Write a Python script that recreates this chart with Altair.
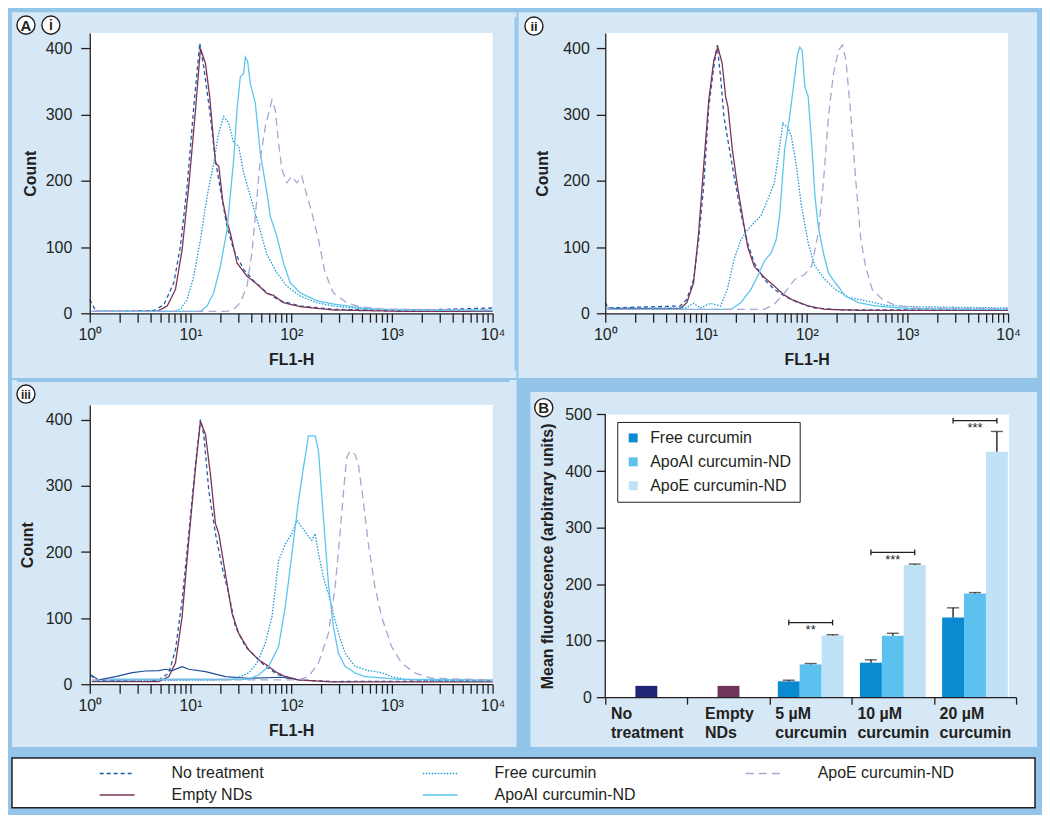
import altair as alt
import pandas as pd

FONT = "Liberation Sans"
OUTER = "#93C5EB"
PANEL = "#D6E8F6"
INK = "#231F20"

# ---------------- histogram series (x stored as log10(FL1-H), y = count) ----------------
series_names = ["No treatment", "Free curcumin", "ApoE curcumin-ND", "Empty NDs", "ApoAI curcumin-ND"]
series_colors = ["#1F5BA8", "#1E9BD7", "#A4A8D3", "#7B3458", "#5EC5EF"]
series_dashes = [[4, 3], [1.5, 1.5], [8, 5], [1, 0], [1, 0]]

# panel (i)
i_no_lx = [0.0, 0.06, 0.3, 0.637, 0.736, 0.835, 0.90, 0.967, 1.033, 1.092, 1.132, 1.198, 1.247, 1.297, 1.363, 1.429, 1.528, 1.627, 1.759, 1.891, 2.089, 2.419, 3.079, 4.0]
i_no_c = [21, 3, 3, 4, 13, 46, 101, 192, 312, 408, 372, 297, 232, 187, 131, 96, 66, 49, 31, 19, 11, 6, 4, 8]
i_em_lx = [0.04, 0.3, 0.67, 0.769, 0.851, 0.917, 0.983, 1.05, 1.099, 1.149, 1.191, 1.248, 1.281, 1.32, 1.36, 1.396, 1.462, 1.561, 1.66, 1.759, 1.825, 1.924, 2.089, 2.419, 3.079, 4.0]
i_em_c = [3, 3, 3, 11, 36, 96, 192, 307, 400, 377, 327, 227, 222, 170, 140, 121, 76, 56, 44, 30, 27, 16, 10, 5, 3, 3]
i_fr_lx = [0.02, 0.5, 0.835, 0.901, 0.967, 1.033, 1.099, 1.165, 1.231, 1.28, 1.33, 1.38, 1.429, 1.479, 1.528, 1.594, 1.66, 1.759, 1.858, 1.957, 2.089, 2.254, 2.419, 2.749, 4.0]
i_fr_c = [3, 3, 3, 6, 21, 56, 111, 177, 227, 272, 297, 287, 257, 252, 212, 177, 142, 89, 61, 41, 26, 16, 11, 6, 5]
i_ai_lx = [0.02, 0.6, 1.1, 1.165, 1.231, 1.297, 1.363, 1.429, 1.462, 1.495, 1.528, 1.545, 1.568, 1.594, 1.644, 1.693, 1.759, 1.792, 1.858, 1.924, 1.99, 2.089, 2.254, 2.419, 2.749, 3.079, 4.0]
i_ai_c = [3, 3, 3, 11, 31, 71, 126, 232, 307, 357, 362, 387, 380, 347, 317, 242, 182, 147, 116, 76, 46, 31, 19, 14, 7, 5, 4]
i_ae_lx = [0.02, 0.8, 1.363, 1.429, 1.495, 1.561, 1.61, 1.644, 1.693, 1.743, 1.776, 1.809, 1.842, 1.875, 1.908, 1.957, 2.007, 2.056, 2.106, 2.139, 2.205, 2.271, 2.337, 2.419, 2.551, 2.683, 2.914, 4.0]
i_ae_c = [3, 3, 3, 6, 16, 41, 91, 147, 232, 282, 302, 322, 307, 257, 217, 197, 207, 197, 207, 187, 152, 111, 61, 31, 16, 10, 6, 5]

# panel (ii)
ii_no_lx = [0.0, 0.03, 0.743, 0.81, 0.877, 0.927, 0.977, 1.028, 1.078, 1.111, 1.145, 1.178, 1.228, 1.279, 1.346, 1.413, 1.479, 1.58, 1.68, 1.781, 1.915, 2.082, 2.35, 4.0]
ii_no_c = [16, 8, 11, 21, 51, 111, 192, 312, 372, 405, 357, 297, 252, 207, 152, 106, 76, 51, 36, 26, 16, 8, 5, 5]
ii_em_lx = [0.04, 0.743, 0.81, 0.877, 0.927, 0.977, 1.028, 1.078, 1.118, 1.161, 1.195, 1.218, 1.262, 1.312, 1.362, 1.413, 1.479, 1.58, 1.68, 1.764, 1.848, 2.015, 2.182, 2.517, 4.0]
ii_em_c = [7, 7, 16, 46, 121, 222, 322, 382, 402, 377, 327, 312, 247, 192, 147, 101, 71, 54, 41, 29, 21, 11, 6, 4.5, 4.5]
ii_fr_lx = [0.02, 0.8, 0.877, 0.944, 1.044, 1.145, 1.212, 1.279, 1.346, 1.413, 1.479, 1.546, 1.613, 1.68, 1.731, 1.764, 1.814, 1.848, 1.898, 1.948, 2.015, 2.082, 2.182, 2.283, 2.417, 2.584, 2.785, 3.019, 4.0]
ii_fr_c = [8, 8, 15, 8, 15, 11, 36, 81, 111, 126, 137, 147, 172, 197, 252, 287, 280, 267, 222, 162, 106, 71, 51, 36, 24, 19, 12, 10, 8]
ii_ai_lx = [0.02, 1.25, 1.346, 1.446, 1.513, 1.58, 1.647, 1.697, 1.731, 1.781, 1.831, 1.881, 1.908, 1.931, 1.955, 1.982, 2.015, 2.049, 2.082, 2.115, 2.166, 2.216, 2.283, 2.316, 2.383, 2.517, 2.685, 3.019, 4.0]
ii_ai_c = [6, 6, 16, 36, 56, 79, 91, 111, 147, 247, 297, 357, 390, 402, 397, 342, 327, 257, 177, 131, 91, 61, 46, 40, 26, 16, 11, 7, 6]
ii_ae_lx = [0.02, 1.58, 1.68, 1.781, 1.881, 1.982, 2.049, 2.115, 2.166, 2.216, 2.266, 2.316, 2.356, 2.39, 2.434, 2.484, 2.534, 2.584, 2.651, 2.751, 2.852, 3.019, 4.0]
ii_ae_c = [6, 6, 14, 31, 51, 59, 71, 121, 197, 297, 362, 397, 405, 382, 307, 207, 116, 71, 36, 21, 14, 8, 7]

# panel (iii)
iii_no_lx = [0.01, 0.06, 0.587, 0.686, 0.785, 0.851, 0.917, 0.983, 1.05, 1.099, 1.132, 1.182, 1.248, 1.314, 1.38, 1.446, 1.545, 1.644, 1.743, 1.875, 2.073, 2.403, 4.0]
iii_no_c = [14, 6.5, 4, 6.5, 17, 52, 127, 228, 333, 401, 378, 293, 228, 177, 137, 87, 57, 42, 27, 14, 6.5, 4, 5]
iii_em_lx = [0.02, 0.686, 0.785, 0.851, 0.917, 0.983, 1.05, 1.099, 1.149, 1.198, 1.248, 1.281, 1.347, 1.413, 1.479, 1.578, 1.677, 1.776, 1.842, 1.941, 2.073, 2.403, 4.0]
iii_em_c = [4, 4, 11.5, 32, 102, 218, 328, 398, 378, 318, 243, 228, 167, 107, 77, 52, 37, 27, 19, 11.5, 6.5, 3.5, 3.5]
iii_fr_lx = [0.03, 1.4, 1.479, 1.578, 1.66, 1.743, 1.809, 1.875, 1.941, 2.007, 2.056, 2.106, 2.172, 2.205, 2.238, 2.271, 2.32, 2.37, 2.419, 2.469, 2.535, 2.634, 2.766, 2.898, 2.997, 3.129, 3.393, 4.0]
iii_fr_c = [5, 6.5, 10.5, 17, 32, 62, 102, 187, 212, 228, 248, 238, 223, 218, 228, 198, 162, 137, 107, 77, 47, 27, 20.6, 17.5, 11.5, 7.5, 5.5, 5]
iii_ai_lx = [0.2, 1.578, 1.677, 1.776, 1.875, 1.941, 2.007, 2.073, 2.122, 2.172, 2.238, 2.271, 2.32, 2.37, 2.419, 2.469, 2.535, 2.634, 2.733, 3.063, 4.0]
iii_ai_c = [7.5, 7.5, 14, 27, 57, 117, 197, 278, 328, 376, 376, 353, 253, 152, 87, 47, 27, 17, 11.5, 7.5, 6.5]
iii_ae_lx = [0.02, 2.073, 2.172, 2.271, 2.37, 2.436, 2.485, 2.518, 2.551, 2.584, 2.634, 2.667, 2.716, 2.766, 2.832, 2.898, 2.997, 3.096, 3.228, 3.393, 4.0]
iii_ae_c = [6.5, 6.5, 11.5, 32, 77, 147, 228, 288, 343, 353, 348, 333, 278, 213, 147, 102, 57, 32, 17, 9, 6.5]
iii_extra_lx = [0.01, 0.09, 0.257, 0.422, 0.554, 0.686, 0.752, 0.818, 0.917, 0.983, 1.149, 1.347, 1.578, 1.908, 2.073]
iii_extra_c = [14, 6.5, 11.5, 17.5, 20, 20.6, 22.6, 20.6, 26.6, 22.6, 19, 11.5, 9, 10.5, 6.5]

decade_values = [1, 10, 100, 1000, 10000]
decade_labels = ["10\u2070", "10\u00b9", "10\u00b2", "10\u00b3", "10\u2074"]
count_ticks = [0, 100, 200, 300, 400]

# ---------------- bar chart (B) ----------------
groups = ["No treatment", "Empty NDs", "5 \u00b5M curcumin", "10 \u00b5M curcumin", "20 \u00b5M curcumin"]
bar_kinds = ["No treatment", "Empty NDs", "Free curcumin", "ApoAI curcumin-ND", "ApoE curcumin-ND"]
bar_colors = ["#1F2676", "#6E3559", "#0A8AD0", "#5CC1EE", "#BFE2F6"]
slots = ["Free curcumin", "ApoAI curcumin-ND", "ApoE curcumin-ND"]
control_values = [20, 20]
free_values = [28, 61, 141]
free_err = [2, 5, 17]
apoai_values = [58, 108.5, 183.5]
apoai_err = [1.5, 4.5, 1.5]
apoe_values = [109, 234, 434]
apoe_err = [1.5, 1.5, 36]
bracket_levels = [132, 256, 489]
star_levels = [118, 243, 476]
star_labels = ["**", "***", "***"]
fluor_ticks = [0, 100, 200, 300, 400, 500]


def panel_df(parts):
    rows = []
    for name, lx, cnt in parts:
        for a, c in zip(lx, cnt):
            rows.append({"series": name, "fl1h": 10 ** a, "count": c})
    return pd.DataFrame(rows)


ONE = alt.Data(values=[{}])


def rect(x1, x2, y1, y2, color, **kw):
    return alt.Chart(ONE).mark_rect(color=color, **kw).encode(
        x=alt.value(x1), x2=alt.value(x2), y=alt.value(y1), y2=alt.value(y2))


def vrule(x, y1, y2):
    return alt.Chart(ONE).mark_rule(color=OUTER, strokeWidth=2).encode(
        x=alt.value(x), y=alt.value(y1), y2=alt.value(y2))


def hrule(y, x1, x2):
    return alt.Chart(ONE).mark_rule(color=OUTER, strokeWidth=2).encode(
        y=alt.value(y), x=alt.value(x1), x2=alt.value(x2))


def badge(cx, cy, label, fs):
    c = alt.Chart(ONE).mark_point(shape="circle", filled=True, fill="white", stroke=INK,
                                  strokeWidth=1.4, size=330, opacity=1).encode(
        x=alt.value(cx), y=alt.value(cy))
    t = alt.Chart(ONE).mark_text(text=label, font=FONT, fontWeight="bold", fontSize=fs,
                                 color=INK, align="center", baseline="middle", dy=0.5).encode(
        x=alt.value(cx), y=alt.value(cy))
    return [c, t]


x_ticks = [k * d for d in decade_values[:-1] for k in range(1, 10)] + [decade_values[-1]]
label_expr = " : ".join(
    f"datum.value == {v} ? '{s}'" for v, s in zip(decade_values, decade_labels)) + " : ''"


def hist_panel(df, W, H, ymax, rect_box, title_x, ypad, decor, extra=None):
    xscale = alt.Scale(type="log", domain=[1, 10000], nice=False)
    yscale = alt.Scale(domain=[0, ymax], nice=False)
    xaxis = alt.Axis(values=x_ticks, labelExpr=label_expr, tickSize=9, labelPadding=4,
                     labelFontSize=16, labelFlush=False, labelOverlap=False,
                     title="FL1-H", titleFontSize=16, titleFontWeight="bold",
                     titleX=W / 2, titleY=51, titleBaseline="alphabetic",
                     titleAlign="center", grid=False, zindex=2)
    yaxis = alt.Axis(values=count_ticks, tickSize=9, labelPadding=ypad, labelFontSize=16,
                     title="Count", titleFontSize=16, titleFontWeight="bold", titleAngle=270,
                     titleX=title_x, titleY=H / 2, titleBaseline="alphabetic",
                     titleAlign="center", grid=False, zindex=2)
    lines = alt.Chart(df).mark_line(strokeWidth=1.3).encode(
        x=alt.X("fl1h:Q", scale=xscale, axis=xaxis),
        y=alt.Y("count:Q", scale=yscale, axis=yaxis),
        color=alt.Color("series:N", scale=alt.Scale(domain=series_names, range=series_colors), legend=None),
        strokeDash=alt.StrokeDash("series:N", scale=alt.Scale(domain=series_names, range=series_dashes), legend=None),
    )
    layers = [rect(*rect_box, PANEL), rect(0, W, 0, H, "white")]
    if extra is not None:
        layers.append(alt.Chart(extra).mark_line(strokeWidth=1.2, color="#1F4F9A").encode(
            x=alt.X("fl1h:Q", scale=xscale, axis=xaxis),
            y=alt.Y("count:Q", scale=yscale, axis=yaxis)))
    layers.append(lines)
    layers += decor
    return alt.layer(*layers).properties(width=W, height=H)


df_i = panel_df([("No treatment", i_no_lx, i_no_c), ("Empty NDs", i_em_lx, i_em_c),
                 ("Free curcumin", i_fr_lx, i_fr_c), ("ApoAI curcumin-ND", i_ai_lx, i_ai_c),
                 ("ApoE curcumin-ND", i_ae_lx, i_ae_c)])
df_ii = panel_df([("No treatment", ii_no_lx, ii_no_c), ("Empty NDs", ii_em_lx, ii_em_c),
                  ("Free curcumin", ii_fr_lx, ii_fr_c), ("ApoAI curcumin-ND", ii_ai_lx, ii_ai_c),
                  ("ApoE curcumin-ND", ii_ae_lx, ii_ae_c)])
df_iii = panel_df([("No treatment", iii_no_lx, iii_no_c), ("Empty NDs", iii_em_lx, iii_em_c),
                   ("Free curcumin", iii_fr_lx, iii_fr_c), ("ApoAI curcumin-ND", iii_ai_lx, iii_ai_c),
                   ("ApoE curcumin-ND", iii_ae_lx, iii_ae_c)])
df_extra = pd.DataFrame({"fl1h": [10 ** a for a in iii_extra_lx], "count": iii_extra_c})

# column 1 plot origins at page x=90, column 2 at x=605; row 1 at y=33, row 2 at y=404
panel_i = hist_panel(df_i, 404, 281, 423, (-78, 428, -21, 346), -54, 9,
                     [vrule(427, -16, 339)] + badge(-64, -8, "A", 15) + badge(-39, -8, "i", 14))
panel_ii = hist_panel(df_ii, 404, 281, 423, (-87, 433, -21, 346), -58, 7,
                      badge(-71.5, -7, "ii", 13))
panel_iii = hist_panel(df_iii, 404, 280, 422.6, (-78, 428, -25, 343), -57, 9,
                       [hrule(-24, -73, 421)] + badge(-64, -11, "iii", 12), extra=df_extra)

# ---- panel B ----
WB, HB = 412, 293
B_TOP = 9.5
ymaxB = 500 * HB / (HB - B_TOP)
bar_rows = []
for g, v in zip(groups[:2], control_values):
    bar_rows.append({"group": g, "slot": slots[1], "kind": g, "value": v, "top": v})
for j, g in enumerate(groups[2:]):
    for s, vals, errs in zip(slots, [free_values, apoai_values, apoe_values], [free_err, apoai_err, apoe_err]):
        bar_rows.append({"group": g, "slot": s, "kind": s, "value": vals[j], "top": vals[j] + errs[j]})
bars_df = pd.DataFrame(bar_rows)
err_df = bars_df[bars_df["kind"].isin(slots)]

br_rows = []
for g, lv in zip(groups[2:], bracket_levels):
    for s in (slots[0], slots[2]):
        br_rows.append({"group": g, "slot": s, "level": lv, "lo": lv - 5, "hi": lv + 5})
br_df = pd.DataFrame(br_rows)
star_df = pd.DataFrame({"group": groups[2:], "slot": [slots[1]] * 3, "ys": star_levels, "stars": star_labels})

split_expr = ("[substring(datum.label, 0, lastindexof(datum.label, ' ')), "
              "substring(datum.label, lastindexof(datum.label, ' ') + 1)]")
xB = alt.X("group:N", sort=groups, scale=alt.Scale(domain=groups, paddingInner=0, paddingOuter=0),
           axis=alt.Axis(title=None, tickBand="extent", tickSize=7, labelFontSize=16,
                         labelFontWeight="bold", labelAlign="left", labelBaseline="top",
                         labelPadding=1, labelAngle=0,
                         labelOffset={"condition": {"test": f"datum.value == '{groups[1]}'", "value": -24},
                                      "value": -36},
                         labelLineHeight=19, labelExpr=split_expr, labelLimit=200, zindex=2))
xoff = alt.XOffset("slot:N", sort=slots, scale=alt.Scale(domain=slots, paddingInner=0, paddingOuter=0.375))
yscaleB = alt.Scale(domain=[0, ymaxB], nice=False)
yaxisB = alt.Axis(values=fluor_ticks, tickSize=9, labelPadding=5, labelFontSize=16, grid=False,
                  domain=False,
                  title="Mean fluorescence (arbitrary units)", titleFontSize=16,
                  titleFontWeight="bold", titleAngle=270, titleX=-53, titleY=B_TOP + (HB - B_TOP) / 2,
                  titleBaseline="alphabetic", titleAlign="center", zindex=2)

bars = alt.Chart(bars_df).mark_bar().encode(
    x=xB, xOffset=xoff,
    y=alt.Y("value:Q", scale=yscaleB, axis=yaxisB),
    color=alt.Color("kind:N", scale=alt.Scale(domain=bar_kinds, range=bar_colors),
                    legend=alt.Legend(orient="none", legendX=12, legendY=17, title=None,
                                      values=slots, symbolType="square", symbolSize=81,
                                      symbolStrokeWidth=0, labelFontSize=16, labelOffset=9,
                                      rowPadding=8, padding=8, fillColor="white",
                                      strokeColor=INK, labelColor=INK)))
errs = alt.Chart(err_df).mark_rule(color=INK, strokeWidth=1.4).encode(
    x=xB, xOffset=xoff, y=alt.Y("value:Q", scale=yscaleB, axis=yaxisB), y2="top:Q")
caps = alt.Chart(err_df).mark_tick(color=INK, thickness=1.4, size=12, orient="horizontal").encode(
    x=xB, xOffset=xoff, y=alt.Y("top:Q", scale=yscaleB, axis=yaxisB))
brackets = alt.Chart(br_df).mark_line(color=INK, strokeWidth=1.3).encode(
    x=xB, xOffset=xoff, y=alt.Y("level:Q", scale=yscaleB, axis=yaxisB), detail="group:N")
br_ends = alt.Chart(br_df).mark_rule(color=INK, strokeWidth=1.3).encode(
    x=xB, xOffset=xoff, y=alt.Y("lo:Q", scale=yscaleB, axis=yaxisB), y2="hi:Q")
stars = alt.Chart(star_df).mark_text(fontSize=13, color=INK, font=FONT, baseline="middle").encode(
    x=xB, xOffset=xoff, y=alt.Y("ys:Q", scale=yscaleB, axis=yaxisB), text="stars:N")
y_domain_line = alt.Chart(ONE).mark_rule(color=INK, strokeWidth=1.3).encode(
    x=alt.value(0), y=alt.Y(datum=fluor_ticks[0], scale=yscaleB, axis=yaxisB),
    y2=alt.Y2(datum=fluor_ticks[-1]))

panel_b = alt.layer(
    rect(-87, 433, -25, 343, OUTER), rect(-75, 433, -13, 343, PANEL),
    rect(0, WB - 7, B_TOP, HB, "white"),
    bars, errs, caps, brackets, br_ends, stars, y_domain_line, *badge(-61.7, 2.7, "B", 15)
).properties(width=WB, height=HB)


# ---- bottom legend ----
def bottom_legend():
    return alt.Legend(orient="none", legendX=9, legendY=7.5, title=None, columns=3,
                      direction="horizontal",
                      symbolType="stroke", symbolSize=1225, symbolStrokeWidth=1.5,
                      clipHeight=16, labelFontSize=16, labelOffset=36,
                      columnPadding=109, rowPadding=5.5, gridAlign="all",
                      padding=0, labelColor=INK)


leg_df = pd.DataFrame({"series": series_names})
legend_lines = alt.Chart(leg_df).mark_line().encode(
    x=alt.value(0), y=alt.value(0),
    color=alt.Color("series:N", scale=alt.Scale(domain=series_names, range=series_colors),
                    legend=bottom_legend()),
    strokeDash=alt.StrokeDash("series:N", scale=alt.Scale(domain=series_names, range=series_dashes),
                              legend=bottom_legend()),
)
legend_row = alt.layer(
    rect(-78, 948, 0, 50, "white", stroke=INK, strokeWidth=1.5), legend_lines
).properties(width=800, height=50)


def indep(c):
    return c.resolve_scale(color="independent", strokeDash="independent").resolve_legend(
        color="independent", strokeDash="independent")


row1 = indep(alt.hconcat(panel_i, panel_ii, spacing=0))
row2 = indep(alt.hconcat(panel_iii, panel_b, spacing=0))
top = indep(alt.vconcat(row1, row2, spacing=0))
chart = indep(alt.vconcat(top, legend_row, spacing=5)).properties(
    padding={"left": 2, "top": 2, "right": 4, "bottom": 4}, background=OUTER
).configure_view(stroke="transparent").configure_axis(
    labelFont=FONT, titleFont=FONT, domainColor=INK, tickColor=INK, labelColor=INK,
    titleColor=INK, domainWidth=1.3, tickWidth=1.3
).configure_legend(labelFont=FONT).configure_text(font=FONT)

chart.save("out.html", embed_options={"renderer": "svg", "actions": False})
